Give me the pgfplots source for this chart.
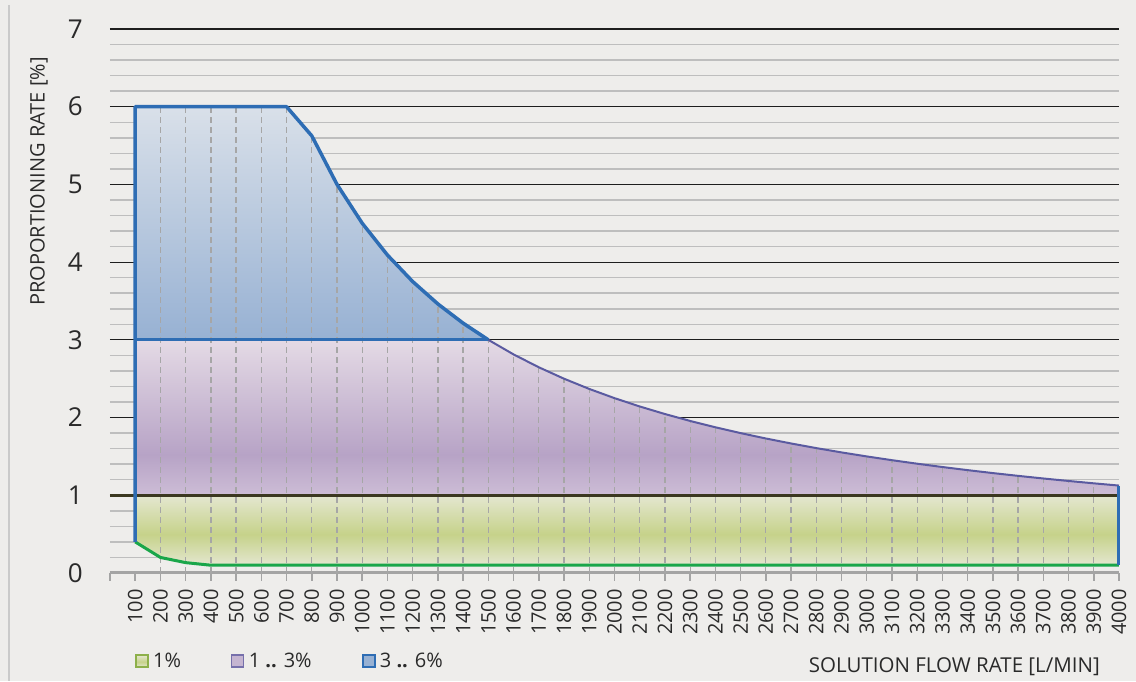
\documentclass[border=0pt]{standalone}
\usepackage{pgfplots}
\pgfplotsset{compat=1.18}
\usepackage{fontspec}
\setmainfont{Open Sans}
\definecolor{bg}{HTML}{EEEDEB}
\definecolor{borderc}{HTML}{CACACA}
\definecolor{axisgray}{HTML}{A4A4A4}
\definecolor{majgrid}{HTML}{1E1E1E}
\definecolor{mingrid}{HTML}{BEBEBE}
\definecolor{dashc}{HTML}{A6A6A6}
\definecolor{gE}{HTML}{E4E7D0}
\definecolor{gM}{HTML}{C6D28A}
\definecolor{gl}{HTML}{8DB04A}
\definecolor{pT}{HTML}{E4DAE5}
\definecolor{pM}{HTML}{B7A3C6}
\definecolor{pB}{HTML}{CDBDD6}
\definecolor{bT}{HTML}{D9E0E9}
\definecolor{bB}{HTML}{97B1D3}
\definecolor{blueline}{HTML}{2E6DB4}
\definecolor{greenline}{HTML}{1AA64A}
\definecolor{purpline}{HTML}{5A5AA0}
\definecolor{darkline}{HTML}{3B3820}
\definecolor{textc}{HTML}{2A2A2A}
\pgfdeclareverticalshading{greensh}{100bp}{color(0bp)=(gE); color(25bp)=(gE); color(47bp)=(gM); color(75bp)=(gE); color(100bp)=(gE)}
\pgfdeclareverticalshading{purpsh}{100bp}{color(0bp)=(pB); color(25bp)=(pB); color(38bp)=(pM); color(75bp)=(pT); color(100bp)=(pT)}
\pgfdeclareverticalshading{bluesh}{100bp}{color(0bp)=(bB); color(25bp)=(bB); color(75bp)=(bT); color(100bp)=(bT)}
\begin{document}
\begin{tikzpicture}
\fill[bg] (0pt,0pt) rectangle (1136pt,681pt);
\draw[line width=2pt, borderc] (9pt,0pt) -- (9pt,676pt);
\begin{axis}[
  at={(110pt,108pt)}, anchor=south west,
  scale only axis, width=1009pt, height=544pt,
  xmin=0, xmax=4000, ymin=0, ymax=7,
  clip=false, no markers,
  axis x line*=bottom, axis y line*=left,
  x axis line style={-, draw=axisgray, line width=3pt},
  y axis line style={draw=none},
  xtick={0,100,...,4000},
  xticklabels={,100,200,300,400,500,600,700,800,900,1000,1100,1200,1300,1400,1500,1600,1700,1800,1900,2000,2100,2200,2300,2400,2500,2600,2700,2800,2900,3000,3100,3200,3300,3400,3500,3600,3700,3800,3900,4000},
  ytick={0,1,...,7},
  minor y tick num=4,
  ymajorgrids, yminorgrids,
  major grid style={line width=1.2pt, majgrid},
  minor grid style={line width=1.5pt, mingrid},
  tick align=outside,
  major tick length=8pt,
  xtick style={axisgray, line width=1.5pt},
  ytick style={draw=none},
  minor y tick style={draw=none},
  /pgf/number format/assume math mode=true,
  xticklabel style={rotate=90, anchor=east, inner sep=0pt, font=\fontsize{20}{23}\selectfont, textc},
  xticklabel shift=8pt,
  yticklabel style={inner sep=0pt, font=\fontsize{26}{30}\selectfont, textc, xshift=-19pt},
  legend style={at={(0.0248,-0.162)}, anchor=west, draw=none, fill=none, inner sep=0pt,
    font=\fontsize{20}{23}\selectfont, text=textc,
    /tikz/every even column/.append style={column sep=48pt}},
  legend columns=3,
  legend cell align=left,
]
% areas
\addplot[draw=none, shade, shading=greensh, forget plot] coordinates {
 (100,0.4) (200,0.2) (300,0.1333) (400,0.1) (4000,0.1) (4000,1) (100,1)} -- cycle;
\addplot[draw=none, shade, shading=purpsh, forget plot] coordinates {
 (100,1) (100,3) (1500,3) (1600,2.8125) (1700,2.6471) (1800,2.5) (1900,2.3684) (2000,2.25)
 (2100,2.1429) (2200,2.0455) (2300,1.9565) (2400,1.875) (2500,1.8) (2600,1.7308) (2700,1.6667)
 (2800,1.6071) (2900,1.5517) (3000,1.5) (3100,1.4516) (3200,1.4063) (3300,1.3636) (3400,1.3235)
 (3500,1.2857) (3600,1.25) (3700,1.2162) (3800,1.1842) (3900,1.1538) (4000,1.125) (4000,1)} -- cycle;
\addplot[draw=none, shade, shading=bluesh, forget plot] coordinates {
 (100,3) (100,6) (700,6) (800,5.625) (900,5) (1000,4.5) (1100,4.0909) (1200,3.75) (1300,3.4615)
 (1400,3.2143) (1500,3)} -- cycle;
% dashed verticals
\addplot[ycomb, dashc, line width=1.3pt, dash pattern=on 6pt off 4pt, forget plot] coordinates {
 (200,6) (300,6) (400,6) (500,6) (600,6) (700,6) (800,5.625) (900,5) (1000,4.5) (1100,4.0909)
 (1200,3.75) (1300,3.4615) (1400,3.2143) (1500,3) (1600,2.8125) (1700,2.6471) (1800,2.5)
 (1900,2.3684) (2000,2.25) (2100,2.1429) (2200,2.0455) (2300,1.9565) (2400,1.875) (2500,1.8)
 (2600,1.7308) (2700,1.6667) (2800,1.6071) (2900,1.5517) (3000,1.5) (3100,1.4516) (3200,1.4063)
 (3300,1.3636) (3400,1.3235) (3500,1.2857) (3600,1.25) (3700,1.2162) (3800,1.1842) (3900,1.1538)};
% lines
\addplot[darkline, line width=3pt, forget plot] coordinates {(0,1) (4000,1)};
\addplot[greenline, line width=3pt, forget plot] coordinates {(100,0.4) (200,0.2) (300,0.1333) (400,0.1) (4000,0.1)};
\addplot[purpline, line width=2pt, forget plot] coordinates {
 (1500,3) (1600,2.8125) (1700,2.6471) (1800,2.5) (1900,2.3684) (2000,2.25)
 (2100,2.1429) (2200,2.0455) (2300,1.9565) (2400,1.875) (2500,1.8) (2600,1.7308) (2700,1.6667)
 (2800,1.6071) (2900,1.5517) (3000,1.5) (3100,1.4516) (3200,1.4063) (3300,1.3636) (3400,1.3235)
 (3500,1.2857) (3600,1.25) (3700,1.2162) (3800,1.1842) (3900,1.1538) (4000,1.125)};
\addplot[blueline, line width=3.5pt, line join=round, forget plot] coordinates {
 (100,0.4) (100,6) (700,6) (800,5.625) (900,5) (1000,4.5) (1100,4.0909) (1200,3.75) (1300,3.4615)
 (1400,3.2143) (1500,3)};
\addplot[blueline, line width=3pt, forget plot] coordinates {(100,3) (1500,3)};
\addplot[blueline, line width=3pt, forget plot] coordinates {(4000,0.1) (4000,1.125)};
% legend
\addlegendimage{legend image code/.code={\draw[draw=gl, line width=1.3pt, shade, shading=greensh] (0pt,-6pt) rectangle (12pt,6pt); \path (15pt,0pt);}}
\addlegendentry{1\%}
\addlegendimage{legend image code/.code={\draw[draw=purpline!70!pM, line width=1.3pt, fill=pM!80!white] (0pt,-6pt) rectangle (12pt,6pt); \path (15pt,0pt);}}
\addlegendentry{1 \textbf{..} 3\%}
\addlegendimage{legend image code/.code={\draw[draw=blueline, line width=2pt, fill=bB] (0pt,-6pt) rectangle (12pt,6pt); \path (15pt,0pt);}}
\addlegendentry{3 \textbf{..} 6\%}
\end{axis}
\node[anchor=east, inner sep=0pt, font=\fontsize{20.5}{24}\selectfont, textc] at (1100pt,14pt) {SOLUTION FLOW RATE [L/MIN]};
\node[rotate=90, inner sep=0pt, font=\fontsize{20}{24}\selectfont, textc] at (39pt,499.5pt) {PROPORTIONING RATE [\%]};
\end{tikzpicture}
\end{document}
